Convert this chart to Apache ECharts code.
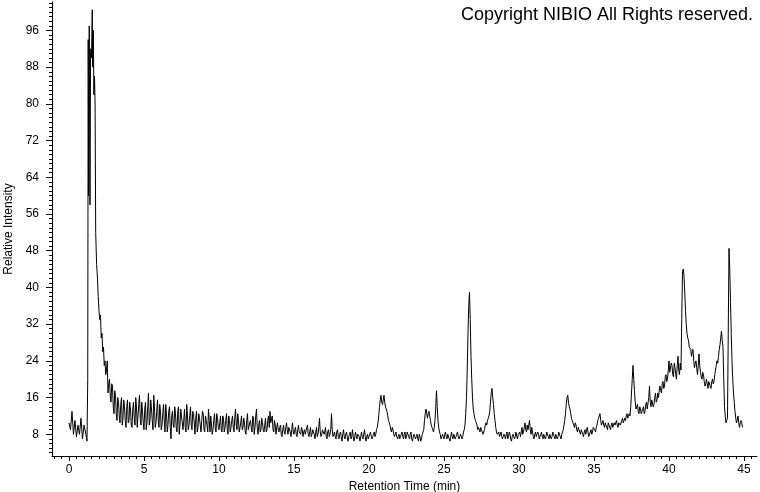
<!DOCTYPE html>
<html><head><meta charset="utf-8">
<script src="https://cdn.jsdelivr.net/npm/echarts@6/dist/echarts.min.js"></script>
<style>html,body{margin:0;padding:0;background:#fff}#chart{width:760px;height:492px}</style>
</head><body><div id="chart"></div>
<script>
// Tick labels
const yTickLabels = [8, 16, 24, 32, 40, 48, 56, 64, 72, 80, 88, 96];
const xTickLabels = [0, 5, 10, 15, 20, 25, 30, 35, 40, 45];

// Sampling grid of the regular segments (min)
const sampleStep = 0.1;

// Relative intensity
const intensity0to1 = [10.5, 9, 13, 8, 11, 7.5, 10, 8, 11.5, 7, 10, 8.5, 6.5]; // t = 0.0 .. 1.2

const mainPeakTimes = [1.25, 1.28, 1.31, 1.35, 1.40, 1.44, 1.50, 1.55, 1.58, 1.62, 1.66, 1.70, 1.74, 1.78,
  1.84, 1.90, 1.95, 2.00, 2.05, 2.10, 2.15, 2.20, 2.25, 2.30, 2.35, 2.40, 2.45];
const mainPeakValues = [20, 94, 60, 97, 58, 92, 90, 100.5, 88, 96, 82, 86, 80, 52,
  45, 42, 38, 35, 33, 34, 29, 30, 26, 27, 23, 24, 21];

// samples at t = 2.5, 2.6, ... 9.9
const intensity2to10 = [
  22, 17, 20, 15, 18.5,
  12.5, 16.5, 11, 15, 10.5, 16, 11.5, 14, 9.5, 15.5,
  11, 13.5, 9.5, 15, 10, 14, 12, 16.5, 10, 13,
  9, 15, 10.5, 17, 11, 13.5, 9, 14, 10.5, 15.5,
  9.5, 13, 10, 14.5, 8.5, 12.5, 10, 14, 7, 13,
  9.5, 12.5, 8.5, 14, 10, 12, 9, 13.5, 8.5, 12,
  10, 14, 9, 12.5, 8, 13, 9.5, 11.5, 8.5, 13,
  9, 12, 10, 13.5, 8.5, 12, 9, 12.5, 8.5, 11.5];
// samples at t = 2.55, 2.65, ... 9.95
const intensity2to10Half = [
  24, 19, 16.5, 19, 14,
  17.5, 12.5, 16, 12, 14.5, 10, 15.5, 11, 14, 10.5,
  15, 10, 13.5, 11.5, 16, 9.5, 14.5, 11.5, 15, 10.5,
  13.5, 9, 14, 10, 15.5, 11, 16.5, 9.5, 13, 11,
  14.5, 9, 12.5, 11, 14.5, 8.5, 13, 9.5, 12, 10,
  14, 9.5, 13, 8, 13.5, 10.5, 11, 9.5, 14.5, 9,
  12, 10, 13, 10.5, 11.5, 8.5, 12.5, 10, 11, 12.5,
  8.5, 11, 8.5, 11, 12, 8, 11, 9.5, 12.5, 9.5];

// samples at t = 10.0 .. 19.9
const intensity10to20 = [
  9, 12, 8.5, 11.5, 9.5, 12.5, 8, 11, 9.5, 12,
  8.5, 13.5, 9, 11, 8.5, 12, 9.5, 10.5, 8, 12.5,
  9, 11, 8.5, 11.5, 9.5, 13.5, 8, 11, 9, 10.5,
  8.5, 11.5, 9, 12, 13, 10.5, 9, 11, 8, 10.5,
  8.5, 10, 7.5, 10, 8, 10.5, 8, 9.5, 7.5, 10.5,
  8, 9.5, 7.5, 10, 8.5, 9.5, 7.5, 9, 8, 10,
  7.5, 9.5, 8, 9, 7, 9.5, 8, 11.5, 7.5, 9,
  8, 9.5, 7, 9, 8, 12.5, 7.5, 8.5, 7, 9,
  7, 8.5, 6.5, 9, 7, 8.5, 6.5, 8, 7, 9,
  6.5, 8.5, 7, 8, 6.5, 8.5, 7, 9, 6.5, 8];
// samples at t = 10.05 .. 19.95
const intensity10to20Half = [
  10.5, 9, 12, 8.5, 11, 9, 12, 8.5, 11, 9.5,
  11.5, 10, 12.5, 8.5, 10.5, 9, 11.5, 8.5, 11, 9,
  10.5, 9.5, 12, 8, 12, 9.5, 10, 8.5, 11.5, 9,
  10, 8.5, 11, 9.5, 10.5, 12, 8.5, 10, 9.5, 9,
  9.5, 8, 9, 8.5, 9.5, 9, 9.5, 8.5, 9, 8.5,
  9, 8, 9, 8.5, 8, 9, 8.5, 8, 9.5, 8,
  8.5, 7.5, 9, 8, 8.5, 7.5, 9.5, 8.5, 8, 8.5,
  8.5, 7.5, 8.5, 7.5, 9, 9, 8, 7.5, 8.5, 7.5,
  8, 7.5, 8, 7.5, 8, 7.5, 7.5, 8.5, 7.5, 7.5,
  7.5, 7.5, 8, 7.5, 7.5, 7.5, 8, 7.5, 7.5, 7];

// samples at t = 20.0 .. 29.9
const intensity20to30 = [
  7.5, 8.5, 7, 8, 7.5, 9, 10.5, 14, 16.5, 14.5,
  16.5, 14, 13, 11, 10, 8.5, 9, 7.5, 8.5, 7,
  8, 7.5, 8.5, 7, 8.5, 7.5, 8, 7, 8.5, 6.5,
  8, 7, 8, 6.5, 7.5, 7, 8, 11, 13.5, 11.5,
  13, 11, 9.5, 8.5, 11, 17.5, 11, 8.5, 7, 8,
  7, 8.5, 7, 8, 6.5, 8.5, 7, 8, 7.5, 8.5,
  7, 8, 7, 8.5, 10, 16, 30, 39, 25, 16,
  12.5, 11, 10, 9.5, 8.5, 9, 8, 9, 10.5, 11,
  12, 15, 18, 14.5, 11, 8.5, 8, 7.5, 8.5, 7,
  8, 7, 8.5, 7.5, 8, 6.5, 8, 7, 8.5, 7];
// samples at t = 20.05 .. 29.95
const intensity20to30Half = [
  8, 7.5, 7.5, 8.5, 8, 9.5, 12, 15.5, 15, 15.5,
  15, 13.5, 12, 10.5, 9, 9.5, 8, 8, 7.5, 7.5,
  7, 8, 7.5, 8, 7, 8.5, 7.5, 8, 7, 7.5,
  7.5, 7.5, 7, 8, 6.5, 8, 9, 12.5, 12.5, 12.5,
  12, 10, 9, 9.5, 14, 14, 9.5, 8, 7.5, 7.5,
  8, 7.5, 8, 7, 7.5, 7.5, 8, 7, 8, 7.5,
  7.5, 7.5, 7.5, 9, 12.5, 22, 36, 33, 20, 13.5,
  11.5, 10.5, 9, 9, 9.5, 8.5, 8.5, 10, 10, 11.5,
  13, 17, 16, 12.5, 9.5, 8, 8.5, 8, 7.5, 7.5,
  7.5, 8, 7, 8.5, 7, 7.5, 7.5, 7.5, 7.5, 8];

// samples at t = 30.0 .. 39.9
const intensity30to40 = [
  8, 7.5, 9.5, 8.5, 10.5, 8.5, 9, 11, 8, 8.5,
  7, 8.5, 7.5, 8, 7, 8.5, 7, 8, 7.5, 8.5,
  7, 8, 7.5, 8.5, 7, 8, 7.5, 8.5, 7, 8.5,
  10, 12.5, 16, 15, 13.5, 11.5, 10.5, 9.5, 10, 8.5,
  9, 8, 8.5, 7.5, 9, 8, 8.5, 7.5, 9, 8.5,
  9.5, 8.5, 10, 11.5, 12.5, 10, 11, 9.5, 10.5, 9,
  10, 9, 10.5, 9.5, 10, 11, 9.5, 10.5, 10, 11.5,
  10.5, 11, 12.5, 11.5, 12, 17, 23, 17.5, 13.5, 14.5,
  12.5, 13.5, 12.5, 14, 13, 15, 13.5, 18.5, 14, 15.5,
  14.5, 17, 15.5, 16, 18.5, 17, 19.5, 18.5, 21, 20];
// samples at t = 30.05 .. 39.95
const intensity30to40Half = [
  8.5, 8.5, 8, 9.5, 9, 10, 10, 9, 9.5, 7.5,
  8, 7.5, 8.5, 7, 8, 7.5, 8, 7, 8.5, 7.5,
  8, 7, 8.5, 7.5, 8, 7, 8.5, 7.5, 8, 9,
  11, 14.5, 16.5, 14, 12.5, 11, 10, 10.5, 9, 9.5,
  8.5, 9, 8, 8.5, 8, 9.5, 7.5, 8.5, 8, 9.5,
  9, 9.5, 11, 12, 11, 10.5, 10, 10.5, 9.5, 10.5,
  9.5, 10, 9.5, 10.5, 10.5, 10, 10.5, 10, 11, 10.5,
  11.5, 12, 11.5, 12.5, 14, 20, 20, 15, 14, 13,
  14, 12.5, 13.5, 12.5, 14.5, 13.5, 16, 15, 15.5, 14,
  16, 15, 17, 17.5, 17.5, 19, 18, 20.5, 19.5, 22];

// samples at t = 40.0 .. 44.9
const intensity40to45 = [
  24, 21.5, 23, 20.5, 22.5, 20, 25, 21, 22, 43.5,
  42.5, 35, 30, 28.5, 27, 25, 26.5, 22.5, 24, 21,
  25.5, 21.5, 20, 21, 18.5, 20, 18, 19.5, 18, 20,
  19.5, 22, 24, 25, 27.5, 30.5, 27, 14, 10.5, 11.5,
  48.5, 37, 24, 17, 13, 10.5, 12, 9.5, 11, 9.5];
// samples at t = 40.05 .. 44.85
const intensity40to45Half = [
  21.5, 23.5, 21, 23.5, 21, 23, 22, 23.5, 33, 44,
  39, 32, 29, 27, 26.5, 26, 24, 23.5, 22.5, 23,
  23, 20.5, 21.5, 19.5, 19, 19, 19.5, 18.5, 19.5, 19,
  21, 23, 23.5, 26.5, 29, 28.5, 20, 12, 11, 30,
  44, 30, 20, 15, 11.5, 11, 10.5, 10.5, 10.5];

function segment(start, values) {
  return values.map((v, i) => [Math.round((start + i * sampleStep) * 1000) / 1000, v]);
}
const chromData = [].concat(
  segment(0, intensity0to1),
  mainPeakTimes.map((t, i) => [t, mainPeakValues[i]]),
  segment(2.5, intensity2to10), segment(2.55, intensity2to10Half),
  segment(10, intensity10to20), segment(10.05, intensity10to20Half),
  segment(20, intensity20to30), segment(20.05, intensity20to30Half),
  segment(30, intensity30to40), segment(30.05, intensity30to40Half),
  segment(40, intensity40to45), segment(40.05, intensity40to45Half)
).sort((a, b) => a[0] - b[0]);

// axis extents
const xMin = -1.133, xMax = 45.867;
const yMin = 3.27, yMax = 102.2;
const xMinorTicks = [];
for (let v = -1; v <= 45.5; v += 0.5) xMinorTicks.push(v);
const yMinorTicks = [];
for (let v = 4; v <= 102; v += 1) yMinorTicks.push(v);

const font = 'Liberation Sans, Arial, sans-serif';
const chart = echarts.init(document.getElementById('chart'), null, {renderer: 'canvas'});
chart.setOption({
  animation: false,
  backgroundColor: '#fff',
  textStyle: {fontFamily: font, color: '#000'},
  title: {
    text: 'Copyright NIBIO All Rights reserved.',
    right: 2, top: 1,
    textStyle: {fontFamily: font, fontSize: 18, fontWeight: 'normal', color: '#000'}
  },
  grid: {left: 52, right: 3, top: 2, bottom: 36, containLabel: false, outerBoundsMode: 'none'},
  xAxis: [{
    type: 'value', min: xMin, max: xMax, position: 'bottom',
    name: 'Retention Time (min)', nameLocation: 'middle', nameGap: 23,
    nameTextStyle: {fontFamily: font, fontSize: 12, color: '#000'},
    axisLine: {show: true, onZero: false, lineStyle: {color: '#000', width: 1}},
    axisTick: {show: true, length: 5, customValues: xTickLabels, lineStyle: {color: '#000'}},
    axisLabel: {customValues: xTickLabels, fontSize: 12, color: '#000', margin: 8, fontFamily: font},
    splitLine: {show: false}
  }, {
    type: 'value', min: xMin, max: xMax, position: 'bottom', offset: 0,
    axisLine: {show: false, onZero: false},
    axisTick: {show: true, length: 3, customValues: xMinorTicks, lineStyle: {color: '#000'}},
    axisLabel: {show: false},
    splitLine: {show: false}
  }],
  yAxis: [{
    type: 'value', min: yMin, max: yMax, position: 'left',
    name: 'Relative Intensity', nameLocation: 'middle', nameGap: 37,
    nameTextStyle: {fontFamily: font, fontSize: 12, color: '#000'},
    axisLine: {show: true, onZero: false, lineStyle: {color: '#000', width: 1}},
    axisTick: {show: true, length: 6, customValues: yTickLabels, lineStyle: {color: '#000'}},
    axisLabel: {customValues: yTickLabels, fontSize: 12, color: '#000', margin: 13, fontFamily: font},
    splitLine: {show: false}
  }, {
    type: 'value', min: yMin, max: yMax, position: 'left', offset: 0,
    axisLine: {show: false, onZero: false},
    axisTick: {show: true, length: 3, customValues: yMinorTicks, lineStyle: {color: '#000'}},
    axisLabel: {show: false},
    splitLine: {show: false}
  }],
  series: [{
    type: 'line',
    xAxisIndex: 0, yAxisIndex: 0,
    data: chromData,
    showSymbol: false, symbol: 'none',
    sampling: null,
    lineStyle: {color: '#000', width: 1},
    silent: true
  }]
});
</script>
</body></html>
